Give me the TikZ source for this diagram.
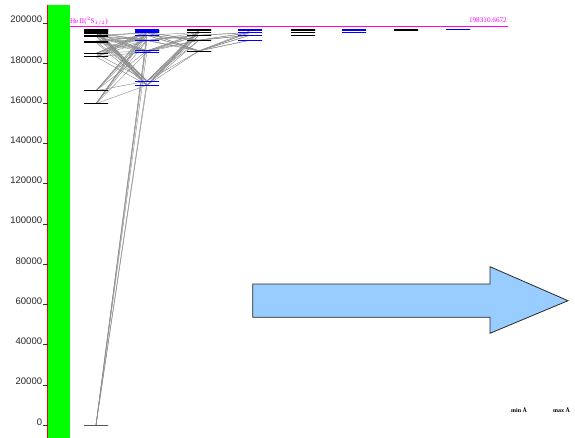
\documentclass[tikz,border=0pt]{standalone}
\usepackage{fontspec}
\setmainfont{Liberation Serif}
\newfontfamily\axisfont{Liberation Sans}
\usetikzlibrary{backgrounds}
\definecolor{levblue}{RGB}{0,0,255}
\definecolor{transgray}{RGB}{140,140,140}
\definecolor{limmag}{RGB}{255,0,255}
\definecolor{barred}{RGB}{255,0,0}
\definecolor{bargreen}{RGB}{0,255,0}
\definecolor{arrowfill}{RGB}{153,204,255}
\definecolor{arrowline}{RGB}{40,40,40}
\newcommand\mklev[4]{\node[#1] (#2) at (#3,{425-2.01*#4}) {};}
\begin{document}
\begin{tikzpicture}[x=1pt,y=-1pt,
  lev/.style={draw, rectangle, inner sep=0pt, minimum width=24pt, minimum height=0pt, line width=0.85pt},
  levk/.style={lev, draw=black},
  levb/.style={lev, draw=levblue},
  trans/.style={draw=transgray, line width=0.45pt},
  axtick/.style={draw=black!80, line width=0.6pt},
  ticklab/.style={font=\axisfont\fontsize{9.5}{10}\selectfont, anchor=base east, inner sep=0pt, text=black!85},
  maglab/.style={font=\fontsize{7.2}{8}\selectfont, text=limmag, inner sep=0pt},
  rangelab/.style={font=\fontsize{6}{7}\selectfont\bfseries, anchor=base west, inner sep=0pt}]
\useasboundingbox (0,0) rectangle (575,438);

% energy axis bar
\fill[bargreen] (47.5,5) rectangle (69.5,438);
\draw[barred, line width=1pt] (47.9,5) -- (47.9,438);
\foreach \k/\lab in {0/0,1/20000,2/40000,3/60000,4/80000,5/100000,6/120000,7/140000,8/160000,9/180000,10/200000}{
  \draw[axtick] (42.8,{425-40.2*\k}) -- (47.5,{425-40.2*\k});
  \node[ticklab] (lab\k) at (42.3,{425-40.2*\k}) {\lab};
}

% ionization limit
\draw[limmag, line width=0.9pt] (69.5,26.4) -- (508,26.4);
\node[maglab, anchor=base west] (ionlab) at (69.8,23.2) {He\,II($^{2}$S$_{1/2}$)};
\node[maglab, anchor=base east] (ionval) at (507,22.8) {198310.6672};

% column 1 : S
\mklev{levk}{S1s}{96}{0}
\mklev{levk}{S2t}{96}{159.856}
\mklev{levk}{S2s}{96}{166.277}
\mklev{levk}{S3t}{96}{183.237}
\mklev{levk}{S3s}{96}{184.865}
\mklev{levk}{S4t}{96}{190.298}
\mklev{levk}{S4s}{96}{190.940}
\mklev{levk}{S5t}{96}{193.347}
\mklev{levk}{S5s}{96}{193.663}
\mklev{levk}{S6t}{96}{194.936}
\mklev{levk}{S6s}{96}{195.113}
\mklev{levk}{S7t}{96}{195.868}
\mklev{levk}{S7s}{96}{195.977}
\mklev{levk}{S8t}{96}{196.461}
\mklev{levk}{S8s}{96}{196.535}
\mklev{levk}{S9t}{96}{196.862}
\mklev{levk}{S9s}{96}{196.912}
% column 2 : P
\mklev{levb}{P2t}{147}{169.087}
\mklev{levb}{P2s}{147}{171.135}
\mklev{levb}{P3t}{147}{185.565}
\mklev{levb}{P3s}{147}{186.209}
\mklev{levb}{P4t}{147}{191.217}
\mklev{levb}{P4s}{147}{191.493}
\mklev{levb}{P5t}{147}{193.800}
\mklev{levb}{P5s}{147}{193.942}
\mklev{levb}{P6t}{147}{195.193}
\mklev{levb}{P6s}{147}{195.275}
\mklev{levb}{P7t}{147}{195.965}
\mklev{levb}{P7s}{147}{196.017}
\mklev{levb}{P8t}{147}{196.455}
\mklev{levb}{P8s}{147}{196.490}
\mklev{levb}{P9t}{147}{196.790}
% column 3 : D
\mklev{levk}{D3t}{199}{186.102}
\mklev{levk}{D3s}{199}{186.105}
\mklev{levk}{D4t}{199}{191.445}
\mklev{levk}{D4s}{199}{191.447}
\mklev{levk}{D5t}{199}{193.917}
\mklev{levk}{D5s}{199}{193.919}
\mklev{levk}{D6}{199}{195.260}
\mklev{levk}{D7}{199}{196.070}
\mklev{levk}{D8}{199}{196.595}
\mklev{levk}{D9}{199}{196.960}
% column 4 : F
\mklev{levb}{F4}{250}{191.447}
\mklev{levb}{F5}{250}{193.918}
\mklev{levb}{F6}{250}{195.261}
\mklev{levb}{F7}{250}{196.070}
\mklev{levb}{F8}{250}{196.595}
% column 5 : G
\mklev{levk}{G5}{303}{193.918}
\mklev{levk}{G6}{303}{195.261}
\mklev{levk}{G7}{303}{196.070}
\mklev{levk}{G8}{303}{196.595}
% column 6 : H
\mklev{levb}{H6}{354}{195.261}
\mklev{levb}{H7}{354}{196.070}
\mklev{levb}{H8}{354}{196.595}
% column 7 : I
\mklev{levk}{I7}{406}{196.070}
\mklev{levk}{I8}{406}{196.595}
% column 8 : K
\mklev{levb}{K8}{458}{196.595}
\mklev{levb}{K9}{458}{196.960}

% transitions
\begin{scope}[on background layer]
\foreach \a/\b in {S1s/P2s,S1s/P3s,S1s/P4s,S1s/P5s,S1s/P6s,S1s/P2t,
  S2s/P2s,S2s/P3s,S2s/P4s,S2s/P5s,S2s/P6s,S2s/P7s,
  P2s/S3s,P2s/S4s,P2s/S5s,P2s/S6s,P2s/S7s,P2s/S8s,P2s/S9s,
  P2s/D3s,P2s/D4s,P2s/D5s,P2s/D6,P2s/D7,P2s/D8,
  S3s/P3s,S3s/P4s,S3s/P5s,S3s/P6s,S3s/P7s,
  P3s/S4s,P3s/S5s,P3s/S6s,P3s/D4s,P3s/D5s,P3s/D6,
  D3s/P4s,D3s/P5s,D3s/P6s,D3s/F4,D3s/F5,D3s/F6,D3s/F7,
  S4s/P4s,S4s/P5s,P4s/S5s,P4s/S6s,P4s/D5s,D4s/P5s,D4s/P6s,D4s/F5,D4s/F6,
  S5s/P6s,P5s/D6,D5s/F6,
  S2t/P2t,S2t/P3t,S2t/P4t,S2t/P5t,S2t/P6t,S2t/P7t,
  P2t/S3t,P2t/S4t,P2t/S5t,P2t/S6t,P2t/S7t,P2t/S8t,P2t/S9t,
  P2t/D3t,P2t/D4t,P2t/D5t,P2t/D6,P2t/D7,P2t/D8,
  S3t/P3t,S3t/P4t,S3t/P5t,S3t/P6t,S3t/P7t,
  P3t/S4t,P3t/S5t,P3t/S6t,P3t/D4t,P3t/D5t,P3t/D6,
  D3t/P4t,D3t/P5t,D3t/P6t,D3t/F4,D3t/F5,D3t/F6,
  S4t/P4t,S4t/P5t,P4t/S5t,P4t/S6t,P4t/D5t,P4t/D6,D4t/P5t,D4t/P6t,D4t/F5,D4t/F6,
  S5t/P6t,D5t/F6}
  \draw[trans] (\a.center) -- (\b.center);
\end{scope}

% big arrow
\draw[fill=arrowfill, draw=arrowline, line width=0.8pt, line join=miter]
  (252.7,284) -- (490,284) -- (490,266.7) -- (568,300.7) -- (490,333.3) -- (490,317.3) -- (252.7,317.3) -- cycle;

% wavelength range labels
\node[rangelab] (minlab) at (511,412.5) {min Å};
\node[rangelab] (maxlab) at (553,412.5) {max Å};
\end{tikzpicture}
\end{document}
